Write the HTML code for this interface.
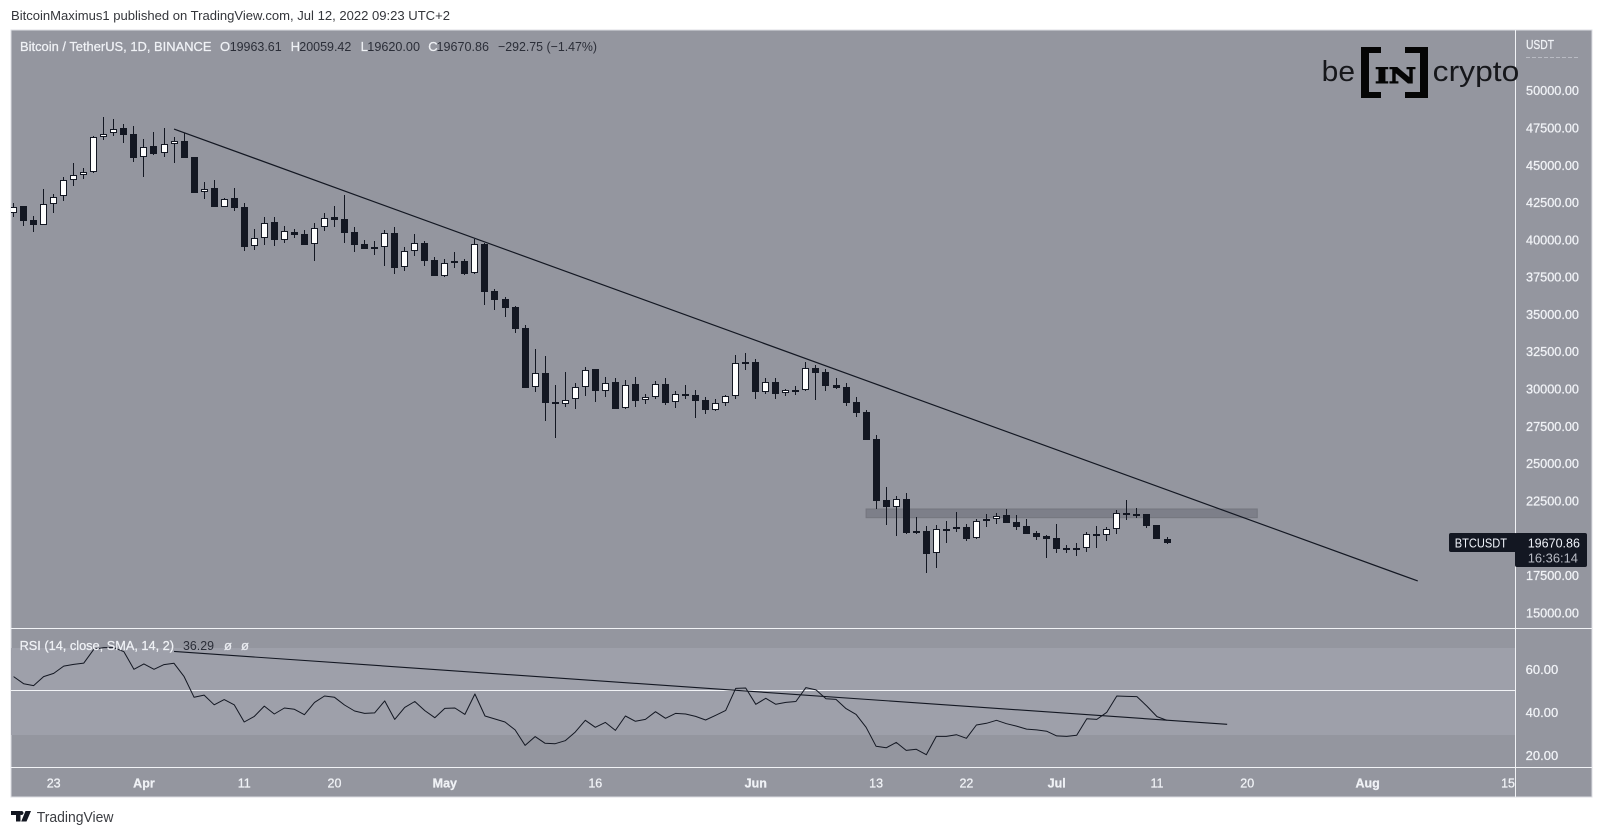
<!DOCTYPE html>
<html lang="en">
<head>
<meta charset="utf-8">
<title>BTCUSDT daily chart</title>
<style>
html,body{margin:0;padding:0;background:#fff;width:1603px;height:836px;overflow:hidden}
svg{display:block}
text{font-family:"Liberation Sans",sans-serif}
.heavy text,text.heavy{stroke:#f0f2f6;stroke-width:.25px}
</style>
</head>
<body>
<svg id="chart" width="1603" height="836" viewBox="0 0 1603 836" xmlns="http://www.w3.org/2000/svg">
  <defs>
    <clipPath id="price-clip"><rect x="11" y="30" width="1504" height="598"/></clipPath>
    <clipPath id="rsi-clip"><rect x="11" y="629" width="1504" height="138"/></clipPath>
  </defs>
  <text x="11" y="20" font-size="13" fill="#34363b" textLength="439" lengthAdjust="spacingAndGlyphs">BitcoinMaximus1 published on TradingView.com, Jul 12, 2022 09:23 UTC+2</text>
  <rect x="11" y="30" width="1581" height="767" fill="#94969f" stroke="#dcdee3" stroke-width="1"/>
  <rect id="rsi-band" x="11" y="648" width="1504" height="87" fill="#9ea0aa"/>
  <g id="price-pane" clip-path="url(#price-clip)"></g>
  <g id="rsi-pane" clip-path="url(#rsi-clip)"></g>
  <line x1="1515.5" y1="30" x2="1515.5" y2="797" stroke="#f2f3f6" stroke-width="1"/>
  <line x1="11" y1="628.5" x2="1592" y2="628.5" stroke="#f2f3f6" stroke-width="1"/>
  <line x1="11" y1="767.5" x2="1592" y2="767.5" stroke="#f2f3f6" stroke-width="1"/>
  <g id="price-axis" class="heavy"></g>
  <g id="rsi-axis" class="heavy"></g>
  <g id="time-axis" class="heavy"></g>
  <text class="heavy" x="1526" y="49" font-size="12.5" fill="#f0f2f6" textLength="28" lengthAdjust="spacingAndGlyphs">USDT</text>
  <line x1="1526" y1="57.5" x2="1579" y2="57.5" stroke="#b9bbc3" stroke-width="1" stroke-dasharray="4 2"/>

  <g font-size="13">
    <text class="heavy" x="20" y="51" fill="#f0f2f6" textLength="191.5" lengthAdjust="spacingAndGlyphs">Bitcoin / TetherUS, 1D, BINANCE</text>
    <text class="heavy" x="220" y="51" fill="#f0f2f6">O</text>
    <text x="229.7" y="51" fill="#2b2e38" textLength="52" lengthAdjust="spacingAndGlyphs">19963.61</text>
    <text class="heavy" x="290.6" y="51" fill="#f0f2f6">H</text>
    <text x="299.3" y="51" fill="#2b2e38" textLength="52" lengthAdjust="spacingAndGlyphs">20059.42</text>
    <text class="heavy" x="360.6" y="51" fill="#f0f2f6">L</text>
    <text x="367.3" y="51" fill="#2b2e38" textLength="52.7" lengthAdjust="spacingAndGlyphs">19620.00</text>
    <text class="heavy" x="428.2" y="51" fill="#f0f2f6">C</text>
    <text x="436.5" y="51" fill="#2b2e38" textLength="52.5" lengthAdjust="spacingAndGlyphs">19670.86</text>
    <text x="498" y="51" fill="#2b2e38" textLength="99" lengthAdjust="spacingAndGlyphs">−292.75 (−1.47%)</text>
  </g>

  <g font-size="13">
    <text class="heavy" x="19.6" y="650" fill="#f0f2f6" textLength="154.4" lengthAdjust="spacingAndGlyphs">RSI (14, close, SMA, 14, 2)</text>
    <text x="183" y="650" fill="#2b2e38" textLength="31" lengthAdjust="spacingAndGlyphs">36.29</text>
    <text class="heavy" x="224" y="650" fill="#e6e8ee">ø</text>
    <text class="heavy" x="241" y="650" fill="#e6e8ee">ø</text>
  </g>

  <g>
    <rect x="1449" y="533" width="68" height="19" rx="2" fill="#131722"/>
    <rect x="1515" y="533" width="72" height="34" rx="2" fill="#131722"/>
    <text x="1454.7" y="547.3" font-size="13" fill="#f0f3fa" textLength="52.3" lengthAdjust="spacingAndGlyphs">BTCUSDT</text>
    <text x="1527.7" y="547.3" font-size="13" fill="#f0f3fa" textLength="52.3" lengthAdjust="spacingAndGlyphs">19670.86</text>
    <text x="1527.7" y="562.3" font-size="13" fill="#b8bbc4" textLength="50.3" lengthAdjust="spacingAndGlyphs">16:36:14</text>
  </g>

  <g>
    <text x="1321.7" y="81" font-size="29" fill="#16171b" textLength="33.3" lengthAdjust="spacingAndGlyphs">be</text>
    <path fill="#050505" d="M1361 47h20v6h-12v39h12v6h-20z"/>
    <path fill="#050505" d="M1428 47h-23v6h15v39h-15v6h23z"/>
    <text x="1375" y="83" font-size="21" font-weight="bold" fill="#050505" stroke="#050505" stroke-width="1" textLength="41" lengthAdjust="spacingAndGlyphs" style="font-family:'DejaVu Serif',serif">IN</text>
    <text x="1432.7" y="81" font-size="29" fill="#16171b" textLength="86.6" lengthAdjust="spacingAndGlyphs">crypto</text>
  </g>

  <g>
    <path fill="#131722" d="M11 811h9.5v10.5h-4.5v-6.5h-5zM21.500 815a2 2 0 1 1 .01 0zM25.500 811h5.500l-4.500 10.500h-5.300z"/>
    <text x="36.700" y="822" font-size="15" fill="#3b3d42" textLength="76.800" lengthAdjust="spacingAndGlyphs">TradingView</text>
  </g>

  <script>
    const firstDay = -4;
    const openPrices = [41778,42270,41331,41018,42381,42918,43990,44325,44527,46873,47141,47476,47074,45532,46292,45800,46404,46627,45532,43186,43454,42225,42784,42180,39566,40102,41175,39968,40549,40370,39700,40862,41510,41376,40504,39700,39499,39499,40437,38158,39230,39767,38627,37599,38560,38582,37755,39722,36571,36035,35499,34091,30116,31054,29130,29016,29311,30116,31322,29887,30451,28708,30337,29244,29445,30337,29110,29666,29579,29244,28614,29043,29512,31791,31791,29820,30451,29713,29867,29914,31389,31121,30250,30116,29110,28439,26649,22560,22111,22627,20482,20482,18987,20570,20596,20750,19992,21132,21266,21534,21065,20797,20348,20127,19992,19342,19342,19322,20281,20194,20596,21668,21621,21600,20864,19963.61];
    const highPrices = [42448,42292,41599,43387,43052,44236,45130,44795,46985,48236,48102,47745,47633,46739,47231,47476,46873,47186,45560,43901,43990,42790,43476,42448,40705,41554,41554,40906,40705,40661,41108,41778,42270,43007,40839,39990,39945,40661,40839,39499,40392,39945,38828,38694,39186,38716,40057,39769,36685,36149,35566,34272,32663,32214,30270,31121,30384,31496,31342,30806,30759,30585,30806,29666,30538,30739,29867,30249,29914,29445,29311,29599,32281,32395,31993,30739,30739,29981,30203,31812,31610,31322,30759,30384,29465,28574,26918,23432,22808,23029,21420,20817,20864,21132,21756,20931,21286,21621,21668,21957,21554,21286,20462,20194,20951,19523,19677,20415,20817,20750,21890,22560,22024,21630,20880,20059.42];
    const lowPrices = [41554,40929,40549,40973,41823,42627,43633,44080,44504,46717,46985,46493,45219,44236,45711,45577,45175,45465,43140,42739,42180,42180,41957,39275,39320,39655,39610,39811,40102,39633,38605,40616,40862,39811,39208,39364,38985,38269,37733,37934,38940,38269,37580,37487,38135,37621,37711,35633,35298,34848,33776,30060,29820,27876,26737,28815,28661,29552,29130,29485,28660,28681,28815,29016,29351,28949,28748,29351,28077,28346,28547,28882,29351,31275,29351,29666,29351,29552,29599,29890,29264,29867,30021,28882,28144,26580,21957,20904,20167,20281,20281,17686,18021,19697,20435,19832,19945,20771,20971,21018,20569,20281,19899,18692,19027,19027,18826,19074,19363,19832,20301,21239,21373,20703,19950,19620];
    const closePrices = [42225,41286,40996,42381,42895,43990,44325,44527,46873,47119,47454,47052,45510,46247,45778,46404,46605,45510,43163,43432,42225,42761,42158,39543,40102,41152,39968,40571,40348,39677,40817,41487,41353,40482,39677,39387,39387,40437,38135,39230,39767,38605,37599,38471,38448,37711,39700,36524,35988,35452,34044,30089,31054,29083,29016,29284,30116,31295,29867,30437,28681,30290,29217,29445,30317,29083,29646,29552,29217,28614,29043,29512,31724,31677,29820,30451,29687,29914,29914,31389,31095,30223,30068,29083,28413,26603,22513,22111,22607,20348,20368,18960,20596,20616,20730,19945,21132,21266,21508,21038,20771,20301,20100,19966,19295,19228,19228,20261,20167,20596,21668,21574,21574,20837,19965,19670.86];
    const rsiValues = [56.6,53.3,52.4,56.6,58.1,61.5,62.3,62.9,69.3,70.1,70.1,68.2,60.0,62.5,60.0,62.2,62.8,56.6,47.0,48.0,43.5,45.9,43.5,35.5,38.1,42.9,39.2,42.0,41.4,38.9,44.6,47.6,47.0,43.4,40.6,39.5,39.7,45.3,36.7,42.3,45.0,40.8,37.5,41.8,42.0,39.0,48.5,38.3,36.9,35.5,31.8,24.6,28.7,25.6,25.4,26.8,30.8,36.3,33.0,35.3,31.6,38.3,35.8,36.7,40.3,37.2,39.5,39.2,38.1,36.4,38.6,40.9,51.1,51.3,43.7,46.5,43.7,44.6,45.0,51.5,50.4,46.3,46.0,41.7,39.0,33.0,24.2,23.5,26.0,22.3,22.8,20.3,28.8,28.8,29.6,27.9,34.1,34.9,36.3,34.7,33.6,32.2,31.8,31.2,29.0,28.8,29.3,37.0,36.7,40.0,47.6,47.4,47.3,42.9,38.0,36.29];
    const priceTicks = [50000,47500,45000,42500,40000,37500,35000,32500,30000,27500,25000,22500,20000,17500,15000];
    const rsiTicks = [60,40,20];
    const timeTickDays = [0,9,19,28,39,54,70,82,91,100,110,119,131,145];
    const timeTickLabels = ["23","Apr","11","20","May","16","Jun","13","22","Jul","11","20","Aug","15"];
    const timeTickBold = ["Apr","May","Jun","Jul","Aug"];
    const trendDays = [12,136];
    const trendPrices = [47432,17130];
    const rsiTrendDays = [12,117];
    const rsiTrendValues = [68.3,34.4];
    const zoneDays = [81,120];
    const zonePrices = [21957,21374];
    const rsiLevels = [50];

    const NS = "http://www.w3.org/2000/svg";
    const xOfDay = d => 1167 - 10.03 * (111 - d);
    const yOfPrice = p => 90.7 + (50000 - p) * 37.29 / 2500;
    const yOfRsi = v => 712.3 - (v - 40) * 2.15;
    const make = (parent, tag, attrs, text) => {
      const el = document.createElementNS(NS, tag);
      for (const k in attrs) el.setAttribute(k, attrs[k]);
      if (text !== undefined) el.textContent = text;
      parent.appendChild(el);
      return el;
    };

    const pricePane = document.getElementById("price-pane");
    const rsiPane = document.getElementById("rsi-pane");
    const priceAxis = document.getElementById("price-axis");
    const rsiAxis = document.getElementById("rsi-axis");
    const timeAxis = document.getElementById("time-axis");

    const zone = make(pricePane, "rect", {
      x: xOfDay(zoneDays[0]), y: yOfPrice(zonePrices[0]),
      width: xOfDay(zoneDays[1]) - xOfDay(zoneDays[0]),
      height: yOfPrice(zonePrices[1]) - yOfPrice(zonePrices[0]),
      fill: "#7d7f89", stroke: "#74767f", "stroke-width": 1
    });
    
    

    closePrices.forEach((close, i) => {
      const open = openPrices[i];
      const up = close >= open;
      const px = Math.floor(xOfDay(firstDay + i));
      const group = make(pricePane, "g", {});
      
      
      make(group, "rect", {
        x: px, y: Math.round(yOfPrice(highPrices[i])), width: 1,
        height: Math.max(1, Math.round(yOfPrice(lowPrices[i])) - Math.round(yOfPrice(highPrices[i]))),
        fill: "#131722"
      });
      const top = Math.round(yOfPrice(Math.max(open, close)));
      const bottom = Math.round(yOfPrice(Math.min(open, close)));
      make(group, "rect", {
        x: px - 2.5, y: top + 0.5, width: 6, height: Math.max(1, bottom - top - 1),
        fill: up ? "#ffffff" : "#131722", stroke: "#131722", "stroke-width": 1
      });
    });

    const trend = make(pricePane, "line", {
      x1: xOfDay(trendDays[0]), y1: yOfPrice(trendPrices[0]),
      x2: xOfDay(trendDays[1]), y2: yOfPrice(trendPrices[1]),
      stroke: "#131722", "stroke-width": 1.2
    });
    
    

    rsiLevels.forEach(level => {
      const line = make(rsiPane, "line", {
        x1: 11, x2: 1515, y1: Math.round(yOfRsi(level)) - 0.5, y2: Math.round(yOfRsi(level)) - 0.5,
        stroke: "#f2f3f6", "stroke-width": 1
      });
      
      
    });

    const rsiLine = make(rsiPane, "polyline", {
      points: rsiValues.map((v, i) => xOfDay(firstDay + i).toFixed(1) + "," + yOfRsi(v).toFixed(1)).join(" "),
      fill: "none", stroke: "#131722", "stroke-width": 1, "stroke-linejoin": "round"
    });
    
    

    const rsiTrend = make(rsiPane, "line", {
      x1: xOfDay(rsiTrendDays[0]), y1: yOfRsi(rsiTrendValues[0]),
      x2: xOfDay(rsiTrendDays[1]), y2: yOfRsi(rsiTrendValues[1]),
      stroke: "#131722", "stroke-width": 1.1
    });
    
    

    priceTicks.forEach(p => {
      const label = make(priceAxis, "text", {
        x: 1526, y: yOfPrice(p) + 4.5, "font-size": 12.5, fill: "#f0f2f6",
        textLength: 53, lengthAdjust: "spacingAndGlyphs"
      }, p.toFixed(2));
      
      
    });

    rsiTicks.forEach(v => {
      const label = make(rsiAxis, "text", {
        x: 1525.7, y: yOfRsi(v) + 4.5, "font-size": 12.5, fill: "#f0f2f6",
        textLength: 32.5, lengthAdjust: "spacingAndGlyphs"
      }, v.toFixed(2));
      
      
    });

    timeTickLabels.forEach((name, i) => {
      const bold = timeTickBold.includes(name);
      const label = make(timeAxis, "text", {
        x: xOfDay(timeTickDays[i]), y: 787.3, "font-size": 12.5, fill: "#f0f2f6",
        "text-anchor": "middle", "font-weight": bold ? "bold" : "normal"
      }, name);
      
      
    });
  </script>
</svg>
</body>
</html>
